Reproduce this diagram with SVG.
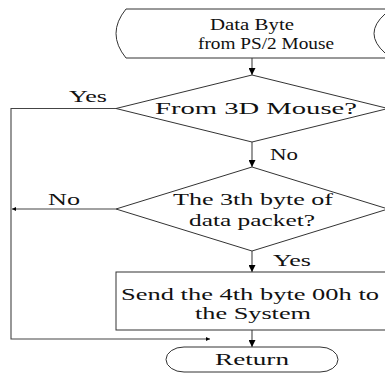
<svg xmlns="http://www.w3.org/2000/svg" width="385" height="373" viewBox="0 0 385 373">
  <defs>
    <marker id="arrow" viewBox="0 0 10 10" refX="10" refY="5" markerWidth="7" markerHeight="7" markerUnits="userSpaceOnUse" orient="auto">
      <path d="M0,0 L10,5 L0,10 z" fill="#000"/>
    </marker>
    <marker id="arrow-sm" viewBox="0 0 10 10" refX="10" refY="5" markerWidth="5" markerHeight="4" markerUnits="userSpaceOnUse" orient="auto">
      <path d="M0,0 L10,5 L0,10 z" fill="#000"/>
    </marker>
  </defs>
  <style>
    .shape { fill: #fff; stroke: #333; stroke-width: 1; }
    .link { fill: none; stroke: #444; stroke-width: 1.1; }
    .arr { marker-end: url(#arrow); }
    .arr-sm { marker-end: url(#arrow-sm); }
    .lbl { font-family: "Times New Roman", "Liberation Serif", "DejaVu Serif", serif; font-size: 16.5px; fill: #111; text-anchor: middle; }
  </style>
  <rect width="385" height="373" fill="#fff"/>

  <!-- Connectors -->
  <g id="connectors">
    <line class="link arr" x1="252" y1="58" x2="252" y2="75"/>
    <line class="link arr" x1="252" y1="142" x2="252" y2="167"/>
    <line class="link arr" x1="252" y1="251" x2="252" y2="272"/>
    <line class="link arr" x1="252" y1="330" x2="252" y2="347"/>
    <polyline class="link arr-sm" points="116,108.5 11,108.5 11,339 210,339"/>
    <line class="link arr-sm" x1="116" y1="209" x2="12" y2="209"/>
    <text class="lbl" font-family="Liberation Serif, serif" x="88" y="102" textLength="38" lengthAdjust="spacingAndGlyphs">Yes</text>
    <text class="lbl" font-family="Liberation Serif, serif" x="284" y="160" textLength="28" lengthAdjust="spacingAndGlyphs">No</text>
    <text class="lbl" font-family="Liberation Serif, serif" x="64" y="205" textLength="32" lengthAdjust="spacingAndGlyphs">No</text>
    <text class="lbl" font-family="Liberation Serif, serif" x="292" y="266" textLength="38" lengthAdjust="spacingAndGlyphs">Yes</text>
  </g>

  <!-- Start terminal -->
  <g id="start">
    <path class="shape" d="M386,9 H126 Q106,33.5 126,58 H386"/>
    <path class="shape" d="M385,14 Q363,33.5 385,53" fill="none"/>
    <text class="lbl" font-family="Liberation Serif, serif" x="252" y="30" textLength="84" lengthAdjust="spacingAndGlyphs">Data Byte</text>
    <text class="lbl" font-family="Liberation Serif, serif" x="266" y="49" textLength="136" lengthAdjust="spacingAndGlyphs">from PS/2 Mouse</text>
  </g>

  <!-- Decision: from 3D mouse -->
  <g id="is3d">
    <polygon class="shape" points="252,75 388,108.5 252,142 116,108.5"/>
    <text class="lbl" font-family="Liberation Serif, serif" x="256" y="114" textLength="202" lengthAdjust="spacingAndGlyphs">From 3D Mouse?</text>
  </g>

  <!-- Decision: third byte -->
  <g id="third">
    <polygon class="shape" points="252,167 388,209 252,251 116,209"/>
    <text class="lbl" font-family="Liberation Serif, serif" x="253" y="205" textLength="160" lengthAdjust="spacingAndGlyphs">The 3th byte of</text>
    <text class="lbl" font-family="Liberation Serif, serif" x="252" y="226" textLength="126" lengthAdjust="spacingAndGlyphs">data packet?</text>
  </g>

  <!-- Process: send fourth byte -->
  <g id="send">
    <rect class="shape" x="116" y="272" width="275" height="58"/>
    <text class="lbl" font-family="Liberation Serif, serif" x="250" y="300" textLength="258" lengthAdjust="spacingAndGlyphs">Send the 4th byte 00h to</text>
    <text class="lbl" font-family="Liberation Serif, serif" x="253" y="319" textLength="116" lengthAdjust="spacingAndGlyphs">the System</text>
  </g>

  <!-- End terminal -->
  <g id="return">
    <rect class="shape" x="166" y="347" width="172" height="25" rx="18" ry="12.5"/>
    <text class="lbl" font-family="Liberation Serif, serif" x="252" y="365" textLength="74" lengthAdjust="spacingAndGlyphs">Return</text>
  </g>
</svg>
